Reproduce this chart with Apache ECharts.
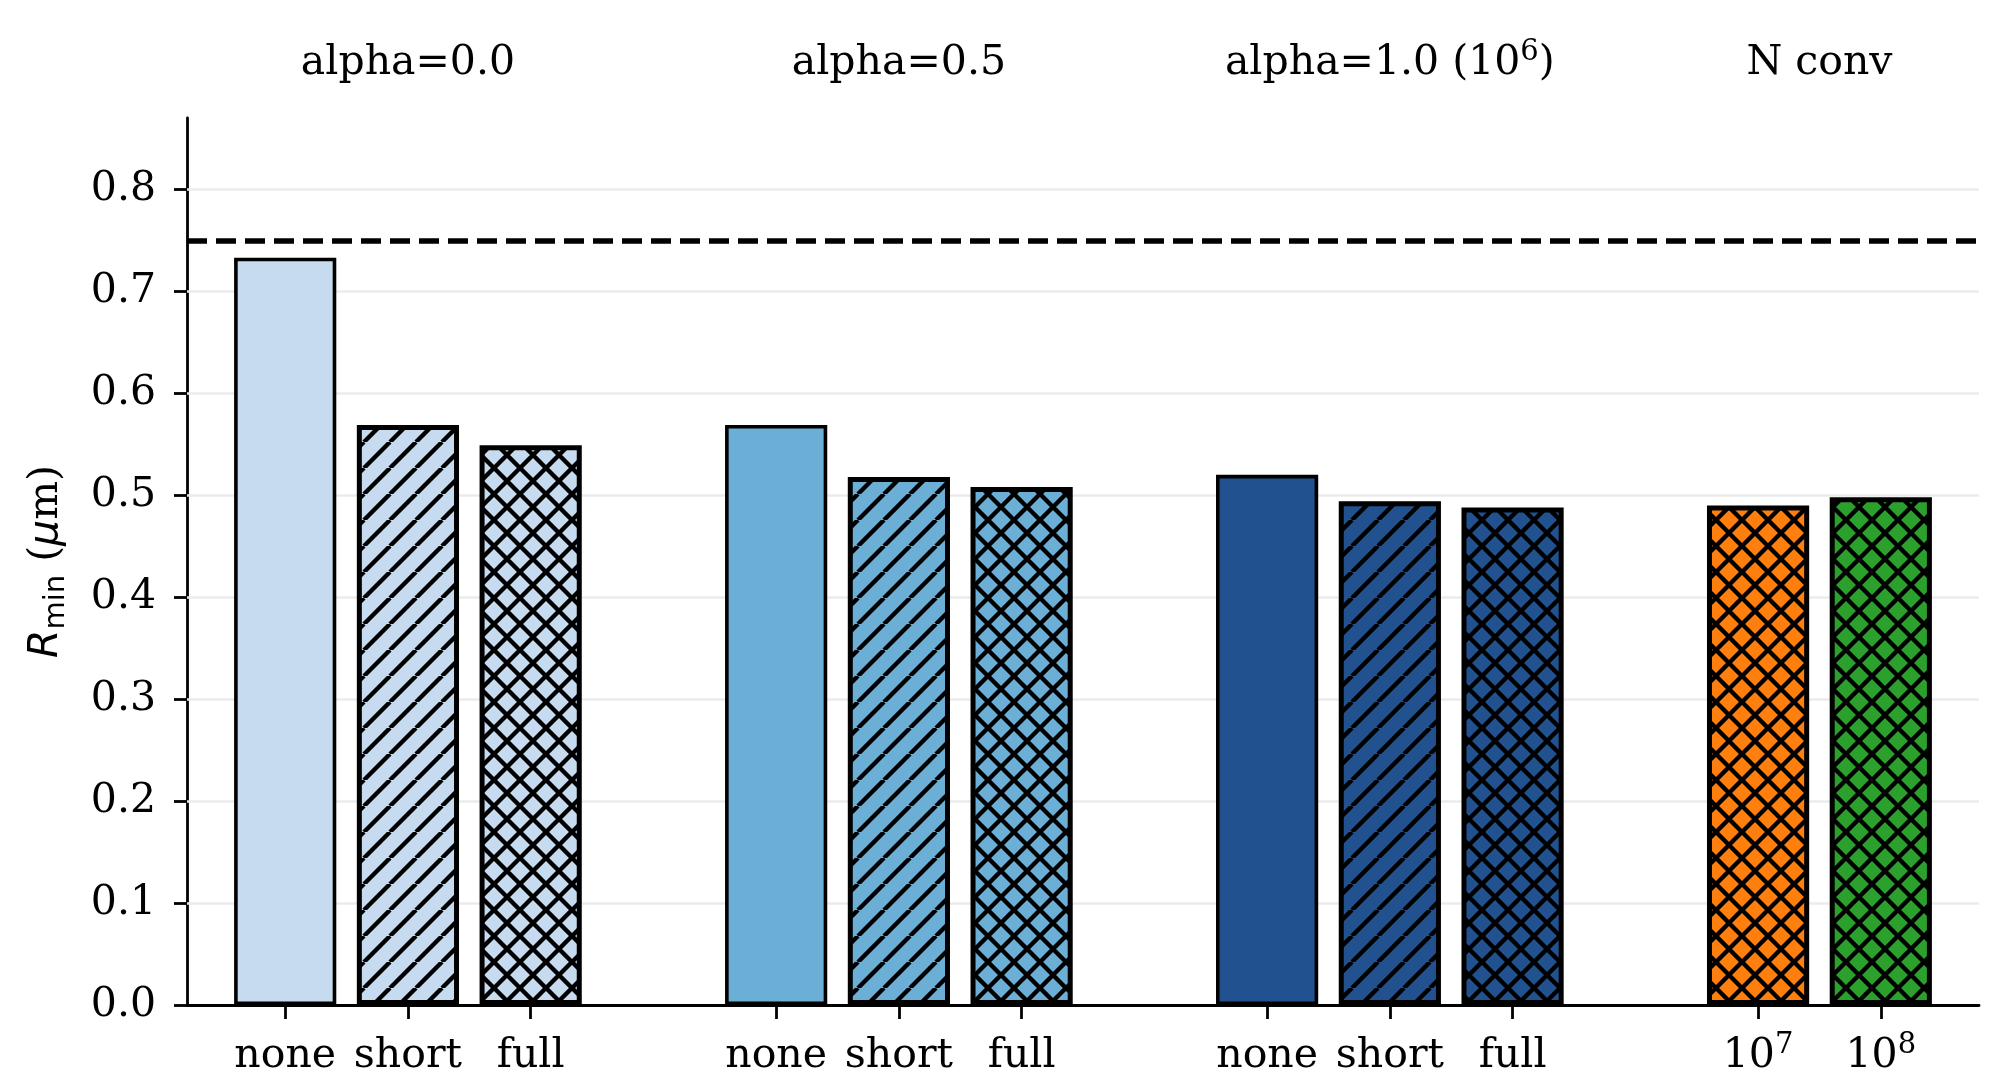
<!DOCTYPE html>
<html><head><meta charset="utf-8">
<script src="https://cdn.jsdelivr.net/npm/echarts@6/dist/echarts.min.js"></script>
<style>html,body{margin:0;padding:0;background:#fff}#c{width:2008px;height:1069px}</style>
</head><body><div id="c"></div><script>
// ---- data ----
const groupTitles = ['alpha=0.0', 'alpha=0.5', 'alpha=1.0 (10{sup|6})', 'N conv'];
const groupCenters = [1, 5, 9, 12.5];
const xPositions = [0, 1, 2, 4, 5, 6, 8, 9, 10, 12, 13];
const xLabels = ['none', 'short', 'full', 'none', 'short', 'full', 'none', 'short', 'full', '10{sup|7}', '10{sup|8}'];
const rminValues = [0.733, 0.569, 0.549, 0.569, 0.518, 0.508, 0.520, 0.494, 0.488, 0.490, 0.498];
const barColors = ['#c6dbef', '#c6dbef', '#c6dbef', '#6baed6', '#6baed6', '#6baed6', '#21528f', '#21528f', '#21528f', '#ff7f0e', '#2ca02c'];
const barHatches = ['', '//', 'xx', '', '//', 'xx', '', '//', 'xx', 'xx', 'xx'];
const yTicks = [0.0, 0.1, 0.2, 0.3, 0.4, 0.5, 0.6, 0.7, 0.8];
const referenceLine = 0.75;
const xMin = -0.8, xMax = 13.8, yMin = 0, yMax = 0.87;

// ---- styling helpers ----
function hatchFill(color, hatch) {
  if (!hatch) return color;
  const s = 26;
  const c = document.createElement('canvas');
  c.width = s; c.height = s;
  const g = c.getContext('2d');
  g.fillStyle = color; g.fillRect(0, 0, s, s);
  g.strokeStyle = '#000'; g.lineWidth = 4.4; g.lineCap = 'butt';
  g.beginPath();
  for (const k of [-1, 0, 1]) { g.moveTo(k * s, s); g.lineTo(k * s + s, 0); }
  if (hatch.indexOf('x') >= 0) {
    for (const k of [-1, 0, 1]) { g.moveTo(k * s, 0); g.lineTo(k * s + s, s); }
  }
  g.stroke();
  return { image: c, repeat: 'repeat' };
}

const SERIF = 'DejaVu Serif';
const FS = 41, SUPFS = 29, LH = 50;
const supStyle = { fontFamily: SERIF, fontSize: SUPFS, lineHeight: SUPFS, verticalAlign: 'top', color: '#000' };

const gridLeft = 187, gridRight = 29, gridTop = 118, gridBottom = 64;
const unitPx = (2008 - gridLeft - gridRight) / (xMax - xMin);
const barW = 0.8 * unitPx + 4;

const chart = echarts.init(document.getElementById('c'), null, { renderer: 'canvas' });

const barData = xPositions.map((x, i) => ({
  value: [x, rminValues[i]],
  itemStyle: {
    color: hatchFill(barColors[i], barHatches[i]),
    borderColor: '#000',
    borderWidth: barHatches[i] ? 5 : 3.6
  }
}));

chart.setOption({
  animation: false,
  backgroundColor: '#fff',
  grid: { left: gridLeft, right: gridRight, top: gridTop, bottom: gridBottom, containLabel: false, outerBoundsMode: 'none' },
  xAxis: {
    type: 'value', min: xMin, max: xMax,
    splitLine: { show: false },
    axisLine: { show: true, onZero: false, lineStyle: { color: '#000', width: 2.8 } },
    axisTick: { show: true, customValues: xPositions, length: 14, lineStyle: { color: '#000', width: 2.8 } },
    axisLabel: {
      customValues: xPositions, margin: 26, color: '#000', fontFamily: SERIF, fontSize: FS, lineHeight: LH,
      formatter: v => { const i = xPositions.indexOf(v); return i >= 0 ? xLabels[i] : ''; },
      rich: { sup: supStyle }
    }
  },
  yAxis: {
    type: 'value', min: yMin, max: yMax, interval: 0.1,
    splitLine: { show: false },
    axisLine: { show: true, onZero: false, lineStyle: { color: '#000', width: 2.8 } },
    axisTick: { show: true, customValues: yTicks, length: 13, lineStyle: { color: '#000', width: 2.8 } },
    axisLabel: { customValues: yTicks, margin: 31, color: '#000', fontFamily: SERIF, fontSize: FS, formatter: v => v.toFixed(1) },
    name: '{it|R}{sub|min}{rm| (}{it|μ}{rm|m)}',
    nameLocation: 'middle', nameRotate: 90, nameGap: 116,
    nameTextStyle: {
      color: '#000', fontSize: FS, lineHeight: LH,
      rich: {
        it: { fontFamily: 'DejaVu Sans', fontStyle: 'italic', fontSize: FS, lineHeight: LH, color: '#000' },
        sub: { fontFamily: 'DejaVu Sans', fontSize: SUPFS, lineHeight: SUPFS, verticalAlign: 'bottom', color: '#000' },
        rm: { fontFamily: SERIF, fontSize: FS, lineHeight: LH, color: '#000' }
      }
    }
  },
  series: [
    {
      type: 'line', data: [], silent: true, z: 1,
      markLine: {
        z: 1, silent: true, symbol: ['none', 'none'], label: { show: false },
        lineStyle: { color: '#ebebeb', width: 2.7, type: 'solid' },
        emphasis: { disabled: true },
        data: yTicks.filter(v => v > 0).map(v => ({ yAxis: v }))
      }
    },
    {
      type: 'bar', data: barData, barWidth: barW, z: 2, silent: true,
      emphasis: { disabled: true },
      markLine: {
        z: 5, silent: true, symbol: ['none', 'none'], label: { show: false },
        lineStyle: { color: '#000', width: 5.5, type: [20, 9] },
        emphasis: { disabled: true },
        data: [{ yAxis: referenceLine }]
      }
    }
  ]
});

const titleY = 63;
chart.setOption({
  graphic: groupTitles.map((t, i) => ({
    type: 'text',
    x: chart.convertToPixel({ xAxisIndex: 0 }, groupCenters[i]),
    y: titleY,
    silent: true,
    style: {
      text: t, fill: '#000', fontFamily: SERIF, fontSize: FS, lineHeight: LH,
      align: 'center', verticalAlign: 'middle',
      rich: { sup: { fontFamily: SERIF, fontSize: SUPFS, lineHeight: SUPFS, verticalAlign: 'top', fill: '#000' } }
    }
  }))
});
</script></body></html>
